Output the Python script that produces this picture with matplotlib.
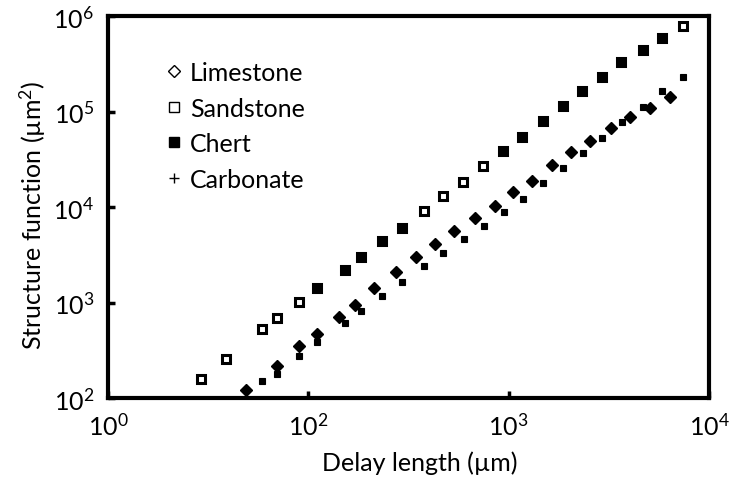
import matplotlib
matplotlib.use("Agg")
import matplotlib.pyplot as plt
from matplotlib.lines import Line2D

plt.rcParams['font.family'] = ['Lato', 'DejaVu Sans']
plt.rcParams['mathtext.fontset'] = 'custom'
plt.rcParams['mathtext.rm'] = 'Lato'
plt.rcParams['mathtext.it'] = 'Lato:italic'
plt.rcParams['mathtext.bf'] = 'Lato:bold'

# Upper branch: sandstone / chert structure functions
sandstone_x = [29, 39, 59, 70, 90, 110, 152, 183, 233, 294, 378, 470, 592, 745,
               938, 1166, 1485, 1871, 2325, 2925, 3640, 4690, 5830, 7430]
sandstone_y = [158, 256, 528, 689, 1011, 1418, 2189, 2995, 4404, 6030, 9080, 13030,
               18270, 26870, 38570, 54060, 79560, 114200, 164000, 229700, 329700,
               440600, 588500, 785600]

chert_x = [110, 152, 183, 233, 294, 938, 1166, 1485, 1871, 2325, 2925, 3640, 4690, 5830]
chert_y = [1418, 2189, 2995, 4404, 6030, 38570, 54060, 79560, 114200, 164000, 229700,
           329700, 440600, 588500]

# Lower branch: limestone / carbonate structure functions
limestone_x = [49, 70, 90, 110, 142, 171, 213, 274, 345, 430, 534, 679, 855, 1052,
               1310, 1648, 2052, 2547, 3245, 4036, 5083, 6397]
limestone_y = [121, 216, 351, 468, 705, 942, 1418, 2084, 2995, 4100, 5610, 7680,
               10240, 14350, 18720, 27540, 37670, 49070, 67150, 87500, 108900, 141900]

carbonate_x = [59, 70, 90, 110, 152, 183, 233, 294, 378, 470, 597, 752, 947, 1177,
               1485, 1871, 2350, 2925, 3680, 4690, 5830, 7430]
carbonate_y = [151, 178, 275, 386, 610, 815, 1170, 1640, 2410, 3300, 4620, 6320, 8870,
               12130, 17820, 25570, 36700, 52800, 77600, 111500, 164000, 229700]

x_ticks = [10, 100, 1000, 10000]
x_tick_labels = [r'$10^{0}$', r'$10^{2}$', r'$10^{3}$', r'$10^{4}$']
y_ticks = [1e2, 1e3, 1e4, 1e5, 1e6]
y_tick_labels = [r'$10^{2}$', r'$10^{3}$', r'$10^{4}$', r'$10^{5}$', r'$10^{6}$']

fig = plt.figure(figsize=(7.29, 4.81), dpi=100)
ax = fig.add_axes([108 / 729, 1 - 399 / 481, 601 / 729, 382 / 481])

ax.plot(chert_x, chert_y, linestyle='none', marker='s', markersize=6.0,
        markerfacecolor='black', markeredgecolor='black', markeredgewidth=1.0)
ax.plot(sandstone_x, sandstone_y, linestyle='none', marker='s', markersize=6.0,
        markerfacecolor='none', markeredgecolor='black', markeredgewidth=2.2)
ax.plot(limestone_x, limestone_y, linestyle='none', marker='D', markersize=5.8,
        markerfacecolor='black', markeredgecolor='black', markeredgewidth=1.0)
ax.plot(carbonate_x, carbonate_y, linestyle='none', marker='s', markersize=4.2,
        markerfacecolor='black', markeredgecolor='black', markeredgewidth=0.8)

ax.set_xscale('log')
ax.set_yscale('log')
ax.set_xlim(10, 1e4)
ax.set_ylim(1e2, 1e6)
ax.minorticks_off()
ax.set_xticks(x_ticks)
ax.set_xticklabels(x_tick_labels)
ax.set_yticks(y_ticks)
ax.set_yticklabels(y_tick_labels)
ax.tick_params(direction='in', length=5, width=2.5, labelsize=18, color='black',
               top=False, right=False)
ax.tick_params(axis='x', pad=10)
ax.tick_params(axis='y', pad=10)
for s in ax.spines.values():
    s.set_linewidth(3.0)
    s.set_color('black')

ax.set_xlabel('Delay length (µm)', fontsize=18)
ax.xaxis.set_label_coords((420 - 108) / 601, -0.138)
ax.set_ylabel('Structure function (µm$^{2}$)', fontsize=18)
ax.yaxis.set_label_coords(-0.1, 0.48)

handles = [
    Line2D([], [], linestyle='none', marker='D', markersize=6, markerfacecolor='white',
           markeredgecolor='black', markeredgewidth=1.0),
    Line2D([], [], linestyle='none', marker='s', markersize=7, markerfacecolor='white',
           markeredgecolor='black', markeredgewidth=1.0),
    Line2D([], [], linestyle='none', marker='s', markersize=7, markerfacecolor='black',
           markeredgecolor='black', markeredgewidth=1.0),
    Line2D([], [], linestyle='none', marker='+', markersize=7, markerfacecolor='black',
           markeredgecolor='black', markeredgewidth=1.0),
]
labels = ['Limestone', 'Sandstone', 'Chert', 'Carbonate']
ax.legend(handles, labels, loc='upper left', bbox_to_anchor=(0.077, 0.908),
          frameon=False, fontsize=18, handlelength=0.8, handletextpad=0.22,
          labelspacing=0.5, borderaxespad=0)

fig.savefig('out.png', dpi=100)
